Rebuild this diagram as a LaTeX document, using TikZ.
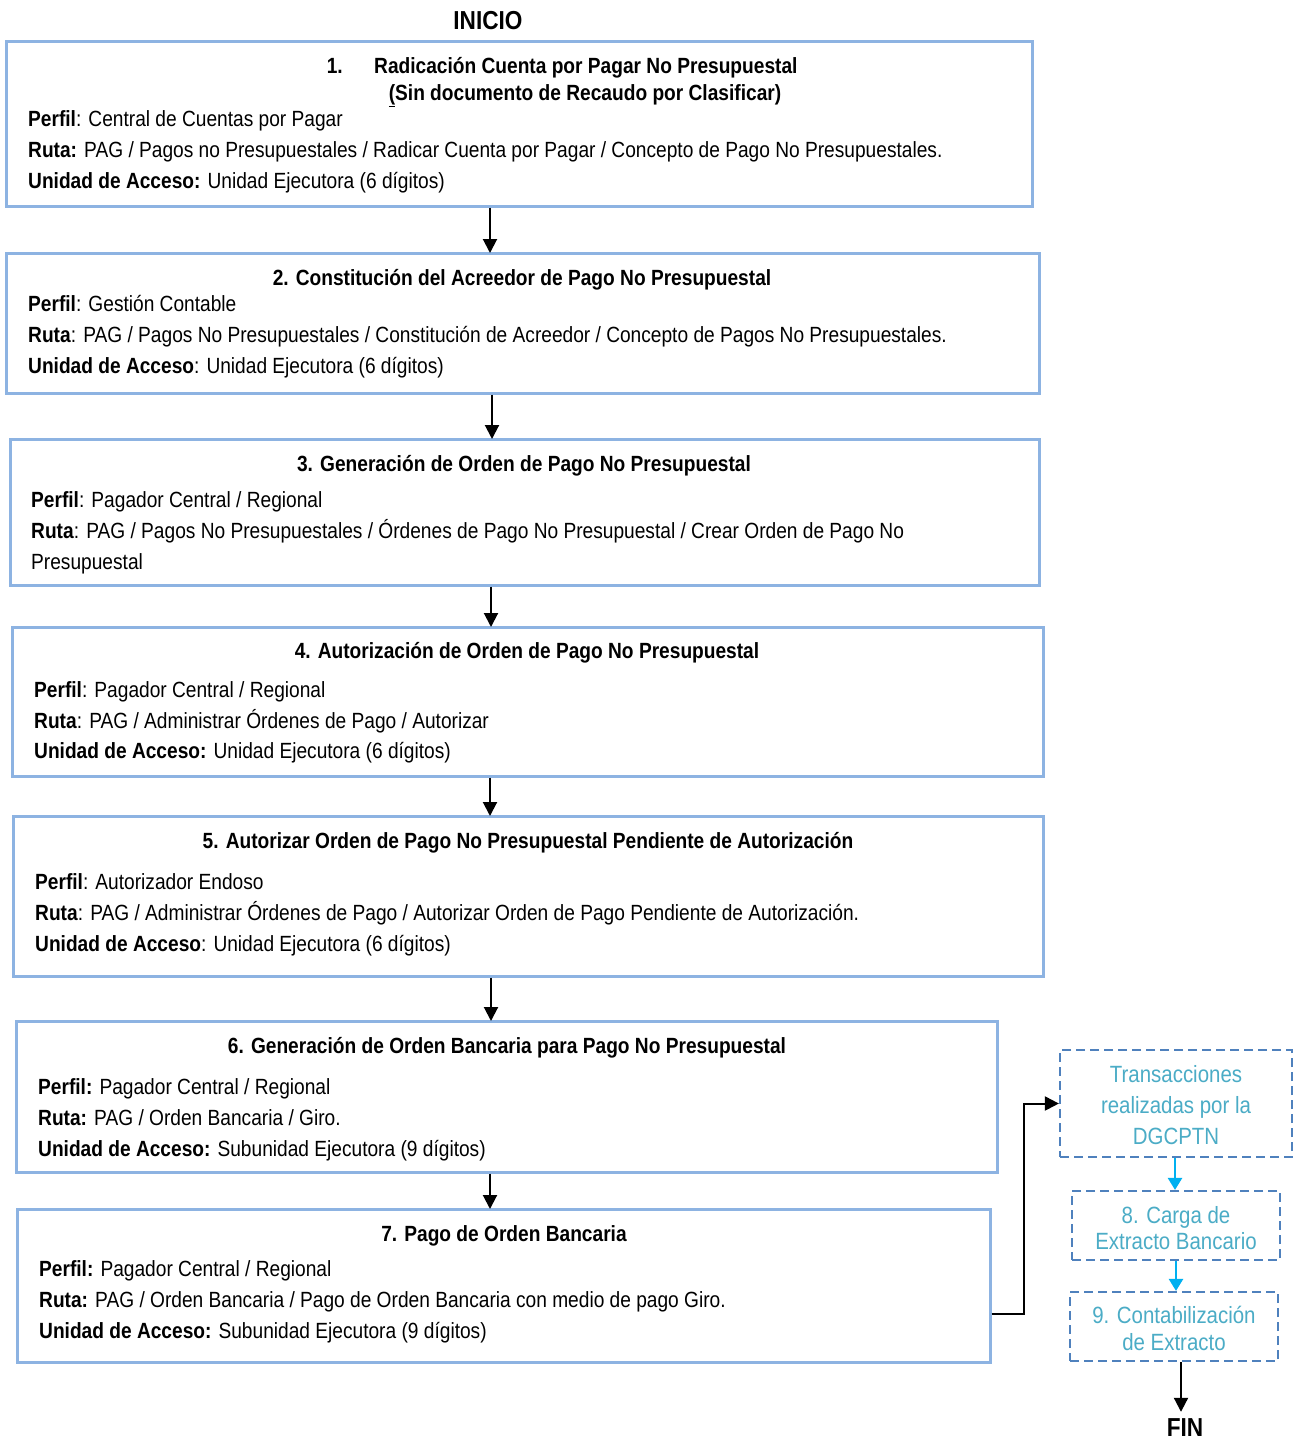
\documentclass[tikz,border=0pt]{standalone}
\usepackage{fontspec}
\setmainfont{Liberation Sans}[FakeStretch=0.87]
\usetikzlibrary{arrows.meta,calc}
\definecolor{boxblue}{HTML}{8DB3E2}
\definecolor{dashblue}{HTML}{4F81BD}
\definecolor{tealtxt}{HTML}{4BACC6}
\definecolor{cyanarr}{HTML}{00B0F0}
\begin{document}
\begin{tikzpicture}[x=1pt,y=-1pt,
  box/.style={draw=boxblue,line width=3pt,rectangle,inner sep=0pt,fill=none},
  dbox/.style={draw=dashblue,line width=2.2pt,dash pattern=on 9pt off 5pt,rectangle,inner sep=0pt},
  txt/.style={anchor=west,inner sep=0pt,text height=16pt,text depth=3pt,font=\fontsize{22}{26}\selectfont},
  ttl/.style={anchor=center,inner sep=0pt,text height=16pt,text depth=3pt,font=\fontsize{22}{26}\selectfont\bfseries},
  ctxt/.style={anchor=center,inner sep=0pt,text height=17pt,text depth=3pt,text=tealtxt,font=\fontsize{23.5}{27}\selectfont},
  big/.style={anchor=center,inner sep=0pt,text height=18pt,text depth=2pt,font=\fontsize{26}{30}\selectfont\bfseries},
  arr/.style={line width=2pt,-{Triangle[width=14pt,length=14pt]}},
  carr/.style={draw=cyanarr,line width=2.5pt,-{Triangle[width=14pt,length=12pt]},cyanarr}
]
\fill[white] (0,0) rectangle (1294,1441);
\useasboundingbox (0,0) rectangle (1294,1441);

\node[big] (inicio) at (488,21) {INICIO};

% Box 1
\node[box,minimum width=1026pt,minimum height=165pt] (b1) at (519,123.5) {};
\node[ttl,anchor=east] (t1a) at (343,67) {1.};
\node[ttl,anchor=west] (t1b) at (374,67) {Radicación Cuenta por Pagar No Presupuestal};
\node[ttl] (t1c) at (585,94) {\underline{(}Sin documento de Recaudo por Clasificar)};
\node[txt] (p1) at (28,120) {\textbf{Perfil}: Central de Cuentas por Pagar};
\node[txt] (r1) at (28,151) {\textbf{Ruta:} PAG / Pagos no Presupuestales / Radicar Cuenta por Pagar / Concepto de Pago No Presupuestales.};
\node[txt] (u1) at (28,182) {\textbf{Unidad de Acceso:} Unidad Ejecutora (6 dígitos)};

% Box 2
\node[box,minimum width=1033pt,minimum height=140pt] (b2) at (522.5,323) {};
\node[ttl] (t2) at (522,279) {2. Constitución del Acreedor de Pago No Presupuestal};
\node[txt] (p2) at (28,305) {\textbf{Perfil}: Gestión Contable};
\node[txt] (r2) at (28,336) {\textbf{Ruta}: PAG / Pagos No Presupuestales / Constitución de Acreedor / Concepto de Pagos No Presupuestales.};
\node[txt] (u2) at (28,367) {\textbf{Unidad de Acceso}: Unidad Ejecutora (6 dígitos)};

% Box 3
\node[box,minimum width=1029pt,minimum height=146pt] (b3) at (524.5,512) {};
\node[ttl] (t3) at (524,465) {3. Generación de Orden de Pago No Presupuestal};
\node[txt] (p3) at (31,501) {\textbf{Perfil}: Pagador Central / Regional};
\node[txt] (r3) at (31,532) {\textbf{Ruta}: PAG / Pagos No Presupuestales / Órdenes de Pago No Presupuestal / Crear Orden de Pago No};
\node[txt] (r3b) at (31,563) {Presupuestal};

% Box 4
\node[box,minimum width=1031pt,minimum height=149pt] (b4) at (527.5,701.5) {};
\node[ttl] (t4) at (527,652) {4. Autorización de Orden de Pago No Presupuestal};
\node[txt] (p4) at (34,691) {\textbf{Perfil}: Pagador Central / Regional};
\node[txt] (r4) at (34,722) {\textbf{Ruta}: PAG / Administrar Órdenes de Pago / Autorizar};
\node[txt] (u4) at (34,752) {\textbf{Unidad de Acceso:} Unidad Ejecutora (6 dígitos)};

% Box 5
\node[box,minimum width=1030pt,minimum height=160pt] (b5) at (528,896) {};
\node[ttl] (t5) at (528,842) {5. Autorizar Orden de Pago No Presupuestal Pendiente de Autorización};
\node[txt] (p5) at (35,883) {\textbf{Perfil}: Autorizador Endoso};
\node[txt] (r5) at (35,914) {\textbf{Ruta}: PAG / Administrar Órdenes de Pago / Autorizar Orden de Pago Pendiente de Autorización.};
\node[txt] (u5) at (35,945) {\textbf{Unidad de Acceso}: Unidad Ejecutora (6 dígitos)};

% Box 6
\node[box,minimum width=981pt,minimum height=151pt] (b6) at (506.5,1096.5) {};
\node[ttl] (t6) at (507,1047) {6. Generación de Orden Bancaria para Pago No Presupuestal};
\node[txt] (p6) at (38,1088) {\textbf{Perfil:} Pagador Central / Regional};
\node[txt] (r6) at (38,1119) {\textbf{Ruta:} PAG / Orden Bancaria / Giro.};
\node[txt] (u6) at (38,1150) {\textbf{Unidad de Acceso:} Subunidad Ejecutora (9 dígitos)};

% Box 7
\node[box,minimum width=973pt,minimum height=153pt] (b7) at (503.5,1285.5) {};
\node[ttl] (t7) at (504,1235) {7. Pago de Orden Bancaria};
\node[txt] (p7) at (39,1270) {\textbf{Perfil:} Pagador Central / Regional};
\node[txt] (r7) at (39,1301) {\textbf{Ruta:} PAG / Orden Bancaria / Pago de Orden Bancaria con medio de pago Giro.};
\node[txt] (u7) at (39,1332) {\textbf{Unidad de Acceso:} Subunidad Ejecutora (9 dígitos)};

% Dashed boxes
\node[dbox,minimum width=232pt,minimum height=107pt] (T) at (1176,1103.5) {};
\node[ctxt] (T1) at (1176,1075) {Transacciones};
\node[ctxt] (T2) at (1176,1106) {realizadas por la};
\node[ctxt] (T3) at (1176,1137) {DGCPTN};

\node[dbox,minimum width=208pt,minimum height=69pt] (b8) at (1176,1225.5) {};
\node[ctxt] (b8a) at (1176,1216) {8. Carga de};
\node[ctxt] (b8b) at (1176,1242) {Extracto Bancario};

\node[dbox,minimum width=208pt,minimum height=69pt] (b9) at (1174,1326.5) {};
\node[ctxt] (b9a) at (1174,1316) {9. Contabilización};
\node[ctxt] (b9b) at (1174,1343) {de Extracto};

\node[big] (fin) at (1185,1428) {FIN};

% Connectors
\coordinate (x1) at (490,0);
\coordinate (x2) at (492,0);
\coordinate (x3) at (491,0);
\coordinate (x4) at (490,0);
\coordinate (x5) at (491,0);
\coordinate (x6) at (490,0);
\draw[arr] (b1.south -| x1) -- ([yshift=-1.5pt]b2.north -| x1);
\draw[arr] (b2.south -| x2) -- ([yshift=-1.5pt]b3.north -| x2);
\draw[arr] (b3.south -| x3) -- ([yshift=-1.5pt]b4.north -| x3);
\draw[arr] (b4.south -| x4) -- ([yshift=-1.5pt]b5.north -| x4);
\draw[arr] (b5.south -| x5) -- ([yshift=-1.5pt]b6.north -| x5);
\draw[arr] (b6.south -| x6) -- ([yshift=-1.5pt]b7.north -| x6);

\coordinate (j) at (1024,1314);
\draw[arr] (b7.east |- j) -- (j) |- (T.west);

\coordinate (cx1) at (1175,0);
\coordinate (cx2) at (1176,0);
\coordinate (cx3) at (1181,0);
\draw[carr] (T.south -| cx1) -- (b8.north -| cx1);
\draw[carr] (b8.south -| cx2) -- (b9.north -| cx2);
\draw[arr] (b9.south -| cx3) -- ([yshift=6pt]fin.north -| cx3);
\end{tikzpicture}
\end{document}
